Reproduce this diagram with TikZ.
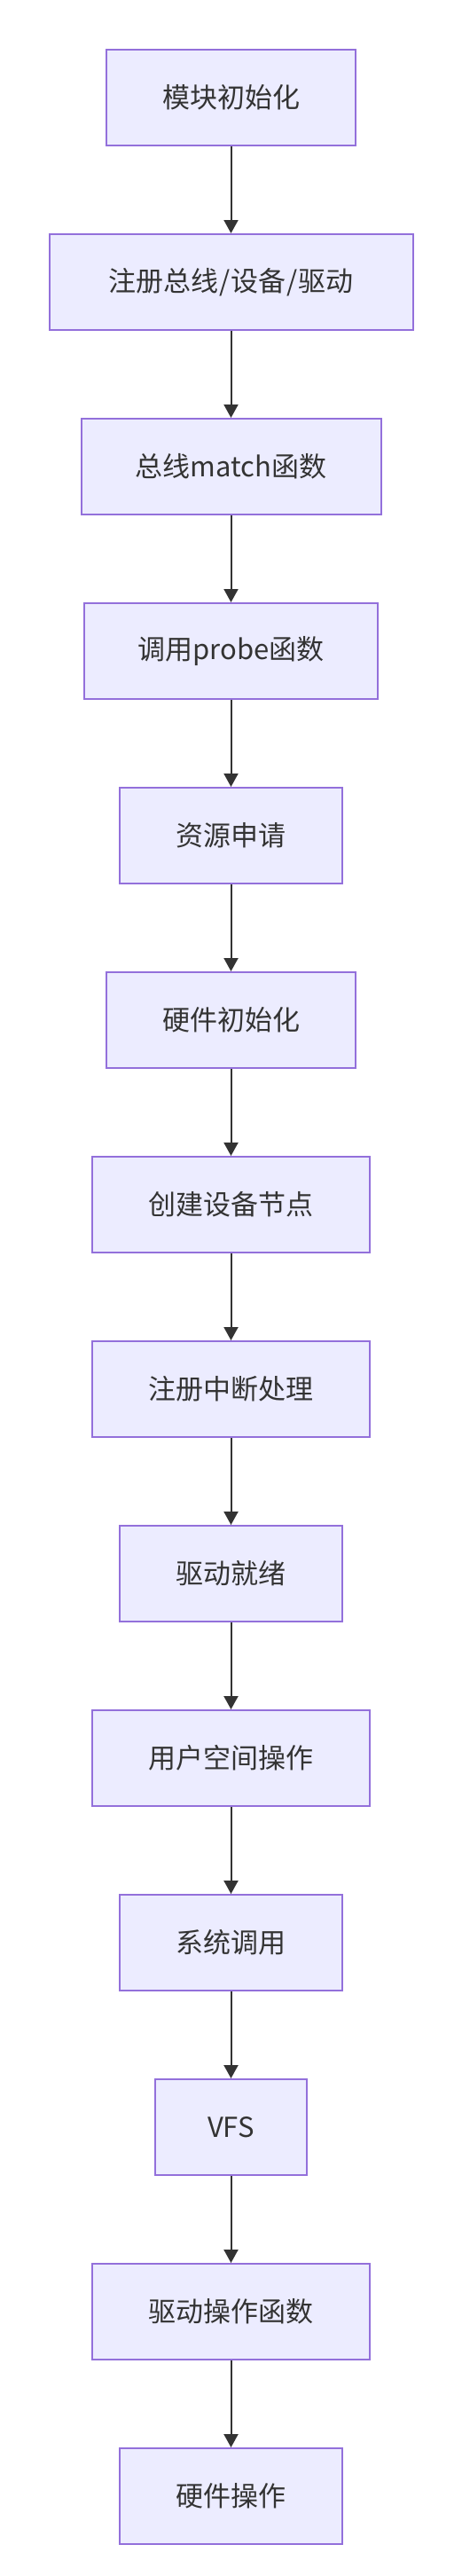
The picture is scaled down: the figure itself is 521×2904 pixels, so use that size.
\documentclass[tikz,border=0pt]{standalone}
\usepackage{fontspec}
\setmainfont{Noto Sans CJK SC}
\usetikzlibrary{arrows.meta}
\definecolor{boxfill}{HTML}{ECECFF}
\definecolor{boxline}{HTML}{9370DB}
\definecolor{ink}{HTML}{333333}
\tikzset{
  stepbox/.style={draw=boxline, fill=boxfill, line width=2pt, minimum height=108pt,
    inner sep=0pt, text=ink, font=\fontsize{31}{37}\selectfont, anchor=center},
  flow/.style={draw=ink, line width=2pt, -{Triangle[length=15pt,width=16pt]}}
}
\begin{document}
\begin{tikzpicture}[x=1pt,y=-1pt]
\useasboundingbox (0,0) rectangle (521,2904);
\node[stepbox, minimum width=281pt] (n1) at (260.5,110) {模块初始化};
\node[stepbox, minimum width=410pt] (n2) at (260.5,318) {注册总线\kern1pt/\kern1pt设备\kern1pt/\kern1pt驱动};
\node[stepbox, minimum width=338pt] (n3) at (260.5,526) {总线match函数};
\node[stepbox, minimum width=331pt] (n4) at (260.5,734) {调用probe函数};
\node[stepbox, minimum width=251pt] (n5) at (260.5,942) {资源申请};
\node[stepbox, minimum width=281pt] (n6) at (260.5,1150) {硬件初始化};
\node[stepbox, minimum width=313pt] (n7) at (260.5,1358) {创建设备节点};
\node[stepbox, minimum width=313pt] (n8) at (260.5,1566) {注册中断处理};
\node[stepbox, minimum width=251pt] (n9) at (260.5,1774) {驱动就绪};
\node[stepbox, minimum width=313pt] (n10) at (260.5,1982) {用户空间操作};
\node[stepbox, minimum width=251pt] (n11) at (260.5,2190) {系统调用};
\node[stepbox, minimum width=171pt] (n12) at (260.5,2398) {VFS};
\node[stepbox, minimum width=313pt] (n13) at (260.5,2606) {驱动操作函数};
\node[stepbox, minimum width=251pt] (n14) at (260.5,2814) {硬件操作};
\foreach \a/\b in {n1/n2,n2/n3,n3/n4,n4/n5,n5/n6,n6/n7,n7/n8,n8/n9,n9/n10,n10/n11,n11/n12,n12/n13,n13/n14}
  \draw[flow] (\a.south) -- (\b.north);
\end{tikzpicture}
\end{document}
